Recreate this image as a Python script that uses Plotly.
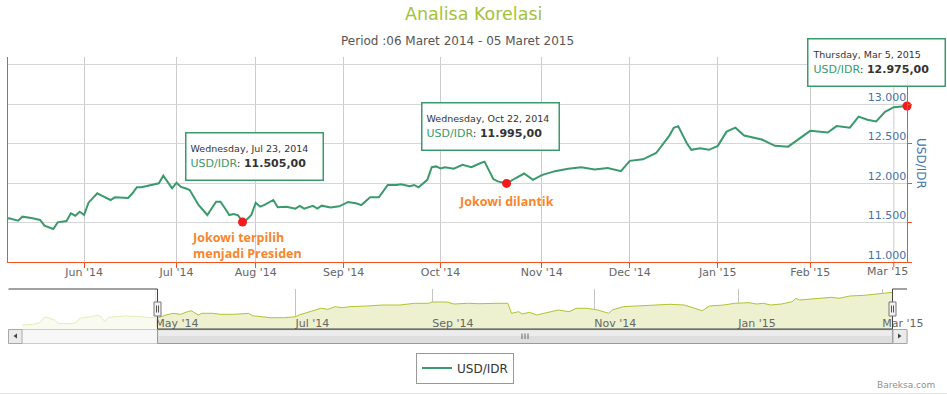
import plotly.graph_objects as go
from datetime import datetime

# ---------------- data ----------------
main_dates = [
    "2014-05-02", "2014-05-05", "2014-05-07", "2014-05-08", "2014-05-12", "2014-05-14", "2014-05-16",
    "2014-05-20", "2014-05-21", "2014-05-23", "2014-05-26", "2014-05-28", "2014-05-30",
    "2014-06-02", "2014-06-03", "2014-06-05", "2014-06-06", "2014-06-10", "2014-06-11", "2014-06-13",
    "2014-06-16", "2014-06-17", "2014-06-18", "2014-06-19", "2014-06-23", "2014-06-25", "2014-06-26",
    "2014-06-30", "2014-07-01", "2014-07-02", "2014-07-03", "2014-07-04", "2014-07-08", "2014-07-11",
    "2014-07-15", "2014-07-16", "2014-07-17", "2014-07-18", "2014-07-21", "2014-07-22", "2014-07-23",
    "2014-07-24", "2014-07-25", "2014-08-04", "2014-08-05", "2014-08-06", "2014-08-08", "2014-08-11",
    "2014-08-13", "2014-08-15", "2014-08-18", "2014-08-19", "2014-08-21", "2014-08-22", "2014-08-25",
    "2014-08-27", "2014-08-29", "2014-09-02", "2014-09-04", "2014-09-05", "2014-09-09", "2014-09-11",
    "2014-09-15", "2014-09-17", "2014-09-18", "2014-09-22", "2014-09-23", "2014-09-24", "2014-09-26",
    "2014-09-29", "2014-09-30", "2014-10-01", "2014-10-02", "2014-10-06", "2014-10-08", "2014-10-10",
    "2014-10-14", "2014-10-15", "2014-10-16", "2014-10-17", "2014-10-20", "2014-10-22", "2014-10-24",
    "2014-10-28", "2014-10-30", "2014-11-03", "2014-11-06", "2014-11-11", "2014-11-14", "2014-11-19",
    "2014-11-24", "2014-11-27", "2014-12-01", "2014-12-04", "2014-12-09", "2014-12-12", "2014-12-15",
    "2014-12-16", "2014-12-18", "2014-12-19", "2014-12-23", "2014-12-29", "2015-01-02", "2015-01-06",
    "2015-01-08", "2015-01-12", "2015-01-16", "2015-01-21", "2015-01-26", "2015-01-28", "2015-02-02",
    "2015-02-06", "2015-02-10", "2015-02-13", "2015-02-17", "2015-02-20", "2015-02-24", "2015-02-26",
    "2015-03-02", "2015-03-05",
]
main_values = [
    11545, 11553, 11523, 11574, 11557, 11532, 11460,
    11418, 11502, 11519, 11616, 11586, 11637,
    11595, 11751, 11870, 11839, 11785, 11819, 11819,
    11810, 11870, 11946, 11946, 11975, 11996, 12093,
    11933, 12004, 11950, 11933, 11911, 11722, 11595,
    11764, 11764, 11680, 11595, 11608, 11590, 11505,
    11540, 11595, 11751, 11700, 11722, 11785, 11693,
    11700, 11675, 11710, 11675, 11710, 11675, 11713,
    11690, 11705, 11760, 11740, 11720, 11819, 11819,
    11975, 11975, 11985, 11960, 11975, 11945, 12040,
    12200, 12210, 12185, 12200, 12180, 12230, 12200,
    12250, 12270, 12160, 12050, 12020, 11995, 12060,
    12120, 12040, 12100, 12150, 12180, 12200, 12170,
    12190, 12150, 12280, 12300, 12380, 12600, 12700,
    12720, 12500, 12420, 12440, 12420, 12470, 12650,
    12700, 12600, 12550, 12470, 12460, 12540, 12660,
    12640, 12720, 12700, 12840, 12800, 12780, 12900,
    12960, 12975,
]

nav_dates = [
    "2014-03-06", "2014-03-11", "2014-03-13", "2014-03-14", "2014-03-17", "2014-03-19", "2014-03-20",
    "2014-03-25", "2014-03-27", "2014-03-28", "2014-04-03", "2014-04-07", "2014-04-08", "2014-04-10",
    "2014-04-11", "2014-04-16", "2014-04-21", "2014-04-25", "2014-04-29", "2014-05-02", "2014-05-05",
    "2014-05-07", "2014-05-09", "2014-05-13", "2014-05-16", "2014-05-19", "2014-05-21", "2014-05-22",
    "2014-05-28", "2014-06-02", "2014-06-06", "2014-06-12", "2014-06-13", "2014-06-18", "2014-06-20",
    "2014-06-26", "2014-07-01", "2014-07-02", "2014-07-07", "2014-07-11", "2014-07-15", "2014-07-17",
    "2014-07-21", "2014-07-23", "2014-08-06", "2014-08-12", "2014-08-19", "2014-08-25", "2014-08-29",
    "2014-09-01", "2014-09-05", "2014-09-09", "2014-09-15", "2014-09-18", "2014-09-25", "2014-09-30",
    "2014-10-01", "2014-10-03", "2014-10-06", "2014-10-08", "2014-10-10", "2014-10-14", "2014-10-16",
    "2014-10-20", "2014-10-23", "2014-10-27", "2014-10-30", "2014-11-04", "2014-11-07", "2014-11-10",
    "2014-11-13", "2014-11-19", "2014-11-25", "2014-12-02", "2014-12-08", "2014-12-12", "2014-12-15",
    "2014-12-17", "2014-12-23", "2014-12-30", "2015-01-07", "2015-01-09", "2015-01-13", "2015-01-15",
    "2015-01-20", "2015-01-23", "2015-01-26", "2015-01-27", "2015-02-03", "2015-02-09", "2015-02-11",
    "2015-02-16", "2015-02-23", "2015-02-26", "2015-03-02", "2015-03-04", "2015-03-05",
]
nav_values = [
    10, 11.75, 15.75, 28.25, 29.25, 22.5, 14.25,
    13.25, 15.75, 26.75, 30.75, 34.25, 30.75, 18.25,
    29.25, 30.75, 32.5, 30.75, 29.25, 27.5, 28.75,
    35, 39.25, 36.75, 43.25, 45.75, 35, 39.25,
    39.25, 36.75, 36.75, 39.25, 33.25, 30.75, 28.25,
    28.25, 30.75, 35, 43.25, 51.75, 49.25, 55.75,
    53.25, 55.75, 57.5, 60, 60, 64.25, 64.25,
    67.5, 67.5, 62.5, 64.25, 63.25, 64.25, 64.25,
    39.25, 43.25, 37.5, 41.75, 35, 39.25, 43.25,
    47.5, 43.25, 51.75, 51.75, 47.5, 39.25, 47.5,
    55.75, 57.5, 60, 61.75, 60, 49.25, 45.75,
    57.5, 60, 64.25, 65.75, 62.5, 64.25, 60,
    62.5, 68.25, 76.75, 72.5, 76.75, 79.25, 76.75,
    82.5, 84.25, 87.5, 89.25, 91.25, 91.75,
]

# non-trading days (market holidays) removed from the ordinal time axis
holidays = [
    "2014-03-31", "2014-04-09", "2014-04-18", "2014-05-01", "2014-05-15", "2014-05-27", "2014-05-29",
    "2014-07-09", "2014-07-28", "2014-07-29", "2014-07-30", "2014-07-31", "2014-08-01",
    "2014-12-25", "2014-12-26", "2014-12-31", "2015-01-01", "2015-02-19",
]

main_tick_dates = ["2014-06-02", "2014-07-01", "2014-08-04", "2014-09-01", "2014-10-01",
                   "2014-11-03", "2014-12-01", "2015-01-02", "2015-02-02"]
main_tick_text = ["Jun '14", "Jul '14", "Aug '14", "Sep '14", "Oct '14",
                  "Nov '14", "Dec '14", "Jan '15", "Feb '15"]
edge_tick_date = "2015-03-02"   # last month tick, drawn explicitly at the axis end
edge_tick_text = "Mar '15"
nav_tick_dates = ["2014-05-02", "2014-07-01", "2014-09-01", "2014-11-03", "2015-01-02", "2015-03-02"]
nav_tick_text = ["May '14", "Jul '14", "Sep '14", "Nov '14", "Jan '15", "Mar '15"]
y_tick_vals = [11000, 11500, 12000, 12500, 13000, 13500]
y_tick_text = ["11.000", "11.500", "12.000", "12.500", "13.000", ""]

event_dates = ["2014-07-23", "2014-10-22", "2015-03-05"]
event_labels = ["Jokowi terpilih<br>menjadi Presiden", "Jokowi dilantik", ""]

# ---------------- style ----------------
W, H = 947, 395
def X(p): return p / W
def Y(p): return 1 - p / H

GREEN = "#3a9a6b"
AXIS_OR = "#f4511e"
LABEL_OR = "#f7862c"
FONT = "DejaVu Sans"
GRID = "#cccccc"

val_by_date = dict(zip(main_dates, main_values))
event_values = [val_by_date[d] for d in event_dates]

rb = [dict(bounds=["sat", "mon"]), dict(values=holidays)]

fig = go.Figure()

fig.add_trace(go.Scatter(
    x=nav_dates, y=nav_values, xaxis="x2", yaxis="y2", mode="lines",
    line=dict(color="#b3c22f", width=1), fill="tozeroy", fillcolor="#edf1d0",
    showlegend=False, hoverinfo="skip"))

fig.add_trace(go.Scatter(
    x=main_dates, y=main_values, mode="lines", name="USD/IDR",
    line=dict(color=GREEN, width=2)))

fig.add_trace(go.Scatter(
    x=event_dates, y=event_values, mode="markers", showlegend=False,
    marker=dict(color="#f5191e", size=9), cliponaxis=False, hoverinfo="skip"))

def idr(v):
    s = f"{v:,.2f}"
    return s.replace(",", "#").replace(".", ",").replace("#", ".")

plot_top, plot_bot = 57, 262

annotations = []
annotations.append(dict(x=X(473), y=Y(14), xref="paper", yref="paper", text="Analisa Korelasi",
                        xanchor="center", yanchor="middle", showarrow=False,
                        font=dict(family=FONT, size=17.5, color="#a4c13a")))
annotations.append(dict(x=X(457), y=Y(41), xref="paper", yref="paper",
                        text="Period :06 Maret 2014 - 05 Maret 2015",
                        xanchor="center", yanchor="middle", showarrow=False,
                        font=dict(family=FONT, size=12, color="#555555")))
annotations.append(dict(x=X(921), y=Y(163), xref="paper", yref="paper", text="USD/IDR",
                        xanchor="center", yanchor="middle", textangle=90, showarrow=False,
                        font=dict(family=FONT, size=12, color="#4572a7")))
annotations.append(dict(x=X(937), y=Y(385), xref="paper", yref="paper", text="Bareksa.com",
                        xanchor="right", yanchor="middle", showarrow=False,
                        font=dict(family=FONT, size=9, color="#909090")))
annotations.append(dict(x=edge_tick_date, y=Y(271), xref="x", yref="paper", text=edge_tick_text,
                        xanchor="center", yanchor="middle", xshift=-6, showarrow=False,
                        font=dict(family=FONT, size=11, color="#666666")))

tip_offsets = [(11.5, -65.5), (-16, -56.5), (-30.5, -43)]
for d, v, (ax, ay) in zip(event_dates, event_values, tip_offsets):
    ds = datetime.strptime(d, "%Y-%m-%d")
    head = f"{ds.strftime('%A')}, {ds.strftime('%b')} {ds.day}, {ds.year}"
    txt = (f"<span style='font-size:9.5px;color:#333333'>{head}</span><br>"
           f"<span style='color:{GREEN}'>USD/IDR</span>: <b>{idr(v)}</b>")
    annotations.append(dict(x=d, y=v, xref="x", yref="y", text=txt, showarrow=True,
                            arrowcolor="rgba(0,0,0,0)", ax=ax, ay=ay, align="left",
                            width=128, height=38, borderpad=4, borderwidth=1.5,
                            bordercolor=GREEN, bgcolor="rgba(255,255,255,0.88)",
                            font=dict(family=FONT, size=11, color="#333333")))

lab_shift = [(-53, -23, "left"), (0, -18.5, "center")]
for d, v, lab, (xs, ys, xa) in zip(event_dates, event_values, event_labels, lab_shift):
    annotations.append(dict(x=d, y=v, xref="x", yref="y", text=f"<b>{lab}</b>", showarrow=False,
                            xanchor=xa, yanchor="middle", align="left", xshift=xs, yshift=ys,
                            font=dict(family="Open Sans", size=12.5, color=LABEL_OR)))

shapes = []
# gridline + tick for the last month tick
shapes.append(dict(type="line", xref="x", yref="paper", x0=edge_tick_date, x1=edge_tick_date,
                   y0=Y(plot_bot), y1=Y(plot_top), line=dict(color=GRID, width=1), layer="below"))
shapes.append(dict(type="line", xref="x", yref="paper", x0=edge_tick_date, x1=edge_tick_date,
                   y0=Y(plot_bot + 5), y1=Y(plot_bot), line=dict(color=AXIS_OR, width=1)))

nav_top, nav_bot = 289, 329
hl, hr = 157.5, 892.5
shapes.append(dict(type="rect", xref="paper", yref="paper", x0=X(22), x1=X(hl), y0=Y(nav_bot), y1=Y(nav_top),
                   fillcolor="rgba(255,255,255,0.68)", line=dict(width=0), layer="above"))
shapes.append(dict(type="rect", xref="paper", yref="paper", x0=X(8.5), x1=X(907), y0=Y(343.5), y1=Y(329.5),
                   fillcolor="#f7f7f7", line=dict(color="#cccccc", width=1)))
shapes.append(dict(type="rect", xref="paper", yref="paper", x0=X(hl), x1=X(hr), y0=Y(343.5), y1=Y(329.5),
                   fillcolor="#dedede", line=dict(color="#9a9a9a", width=1)))
shapes.append(dict(type="rect", xref="paper", yref="paper", x0=X(hl + 1), x1=X(hr - 1), y0=Y(336), y1=Y(330.5),
                   fillcolor="#ececec", line=dict(width=0)))
for gx in (522, 525, 528):
    shapes.append(dict(type="line", xref="paper", yref="paper", x0=X(gx), x1=X(gx), y0=Y(339), y1=Y(333.5),
                       line=dict(color="#666666", width=1)))
for bx0, bx1 in ((8.5, 22), (893, 907)):
    shapes.append(dict(type="rect", xref="paper", yref="paper", x0=X(bx0), x1=X(bx1), y0=Y(343.5), y1=Y(329.5),
                       fillcolor="#ebebeb", line=dict(color="#a8a8a8", width=1)))
shapes.append(dict(type="path", xref="paper", yref="paper",
                   path=f"M {X(17)},{Y(333.5)} L {X(17)},{Y(338.5)} L {X(13.5)},{Y(336)} Z",
                   fillcolor="#444444", line=dict(width=0)))
shapes.append(dict(type="path", xref="paper", yref="paper",
                   path=f"M {X(898)},{Y(333.5)} L {X(898)},{Y(338.5)} L {X(901.5)},{Y(336)} Z",
                   fillcolor="#444444", line=dict(width=0)))
shapes.append(dict(type="path", xref="paper", yref="paper",
                   path=(f"M {X(8.5)},{Y(nav_top)} L {X(hl)},{Y(nav_top)} L {X(hl)},{Y(nav_bot)} "
                         f"L {X(hr)},{Y(nav_bot)} L {X(hr)},{Y(nav_top)} L {X(907)},{Y(nav_top)}"),
                   line=dict(color="#444444", width=1)))
for hx in (hl, hr):
    shapes.append(dict(type="rect", xref="paper", yref="paper", x0=X(hx - 3.5), x1=X(hx + 3.5),
                       y0=Y(316), y1=Y(302), fillcolor="#f2f2f2", line=dict(color="#777777", width=1)))
    for dx in (-1, 1):
        shapes.append(dict(type="line", xref="paper", yref="paper", x0=X(hx + dx), x1=X(hx + dx),
                           y0=Y(312.5), y1=Y(305.5), line=dict(color="#555555", width=1)))
shapes.append(dict(type="line", xref="paper", yref="paper", x0=0, x1=1, y0=Y(393.5), y1=Y(393.5),
                   line=dict(color="#e6e6e6", width=1)))

px_per_1000 = 79.0
y_max = 11000 + (plot_bot - plot_top) / px_per_1000 * 1000

fig.update_layout(
    width=W, height=H, autosize=False, margin=dict(l=0, r=0, t=0, b=0, pad=0, autoexpand=False),
    paper_bgcolor="white", plot_bgcolor="rgba(0,0,0,0)",
    font=dict(family=FONT, size=11, color="#666666"),
    xaxis=dict(domain=[X(8), X(907)], anchor="y", type="date", automargin=False,
               range=["2014-05-02 17:00", "2015-03-05"], rangebreaks=rb,
               tickmode="array", tickvals=main_tick_dates, ticktext=main_tick_text,
               ticklabeloverflow="allow",
               showgrid=True, gridcolor=GRID, gridwidth=1,
               ticks="outside", ticklen=5, tickcolor=AXIS_OR, ticklabelstandoff=-5,
               showline=True, linecolor=AXIS_OR, linewidth=1,
               tickfont=dict(family=FONT, size=11, color="#666666"), zeroline=False),
    yaxis=dict(domain=[Y(plot_bot), Y(plot_top)], anchor="x", side="right", automargin=False,
               range=[11000, y_max], tickvals=y_tick_vals, ticktext=y_tick_text,
               ticklabelposition="inside", ticklabelshift=-7,
               showgrid=True, gridcolor="#d6d6d6", gridwidth=1,
               ticks="outside", ticklen=4, tickcolor=AXIS_OR,
               showline=True, linecolor=AXIS_OR, linewidth=1, mirror=True,
               tickfont=dict(family=FONT, size=11, color="#4572a7"), zeroline=False),
    xaxis2=dict(domain=[X(22), X(893)], anchor="y2", type="date", automargin=False,
                range=["2014-03-06", "2015-03-05"], rangebreaks=rb,
                tickvals=nav_tick_dates, ticktext=nav_tick_text,
                ticklabelposition="inside right", ticklabeloverflow="allow", ticklabelstandoff=-6,
                showgrid=True, gridcolor="#c4c4c4", ticks="", showline=False, zeroline=False,
                tickfont=dict(family=FONT, size=11, color="#666666")),
    yaxis2=dict(domain=[Y(nav_bot), Y(nav_top)], anchor="x2", range=[0, 100], visible=False,
                automargin=False),
    legend=dict(x=X(465), y=Y(368), xanchor="center", yanchor="middle", orientation="h",
                bordercolor="#999999", borderwidth=1, bgcolor="white",
                font=dict(family=FONT, size=12, color="#333333")),
    annotations=annotations, shapes=shapes, hovermode=False,
)

fig.write_html("out.html", config={"displayModeBar": False},
               post_script="document.body.style.margin='0px';document.body.style.overflow='hidden';")
